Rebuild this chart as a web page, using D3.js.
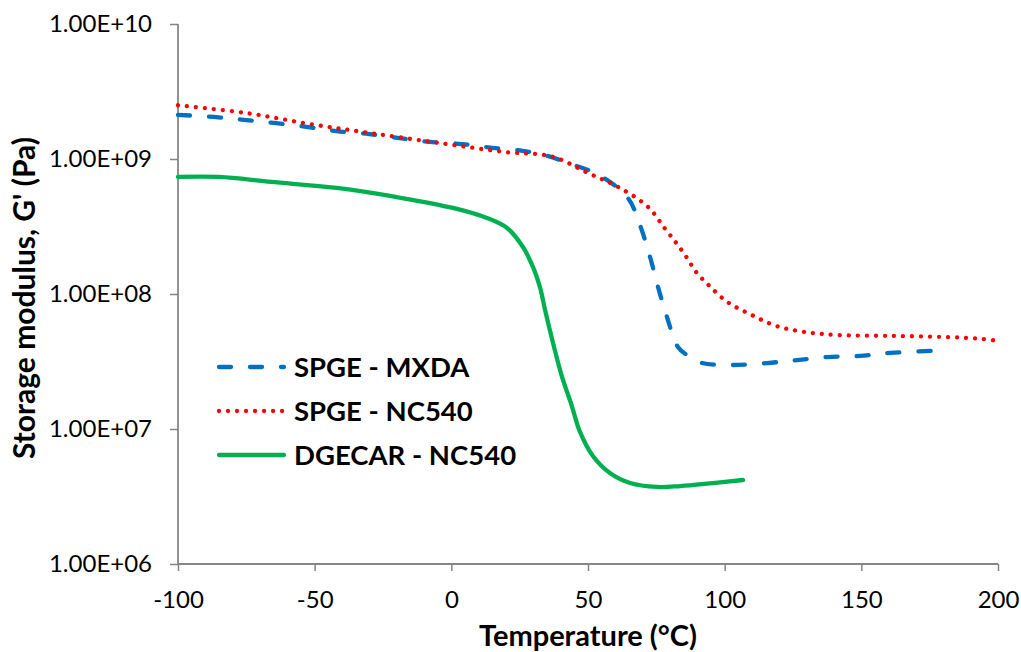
<!DOCTYPE html>
<html><head><meta charset="utf-8">
<script src="https://cdn.jsdelivr.net/npm/d3@7"></script>
<style>
body{margin:0;background:#fff;}
svg{display:block;font-family:Lato, "Open Sans", sans-serif;}
</style></head>
<body><svg id="c" width="1021" height="652"></svg>
<script>
// ---- data ----
const seriesNames = ["SPGE - MXDA", "SPGE - NC540", "DGECAR - NC540"];
const mxdaT = [-100,-87,-76,-65,-53,-42,-30,-19,-8,4,15,26,34,43,54,64.6,69,72.7,75.6,78.9,82.9,87.3,91.8,102.8,115.5,126.5,137.4,149.5,160.5,175.5];
const mxdaG = [2.12e9,2.05e9,1.95e9,1.85e9,1.73e9,1.61e9,1.53e9,1.43e9,1.34e9,1.29e9,1.21e9,1.15e9,1.07e9,9.3e8,7.6e8,5.14e8,3.24e8,1.88e8,1.13e8,6.76e7,4.05e7,3.41e7,3.08e7,2.98e7,3.08e7,3.24e7,3.41e7,3.48e7,3.66e7,3.79e7];
const nc540T = [-100,-75,-52,-30,-5,19,37,50,61,72,78,82,86,89.5,94,101,110,119,129,141.5,161.6,181,194,200];
const nc540G = [2.5e9,2.19e9,1.82e9,1.56e9,1.32e9,1.13e9,1.04e9,7.87e8,6.21e8,4.41e8,3.08e8,2.43e8,1.88e8,1.46e8,1.17e8,8.73e7,6.98e7,5.79e7,5.24e7,4.97e7,4.89e7,4.8e7,4.65e7,4.49e7];
const dgecarT = [-100,-85,-66,-42,-18,0.6,13,20.4,26.2,29.9,32.4,34.3,37.2,40.5,44,47,51.8,58,65.4,75.2,83.7,95.7,106.7];
const dgecarG = [7.36e8,7.36e8,6.76e8,6.1e8,5.14e8,4.34e8,3.66e8,3.08e8,2.23e8,1.58e8,1.13e8,7.6e7,4.34e7,2.43e7,1.5e7,9.6e6,6.3e6,4.72e6,3.98e6,3.72e6,3.78e6,3.98e6,4.19e6];
const xTicks = [-100,-50,0,50,100,150,200];
const xTickLabels = ["-100","-50","0","50","100","150","200"];
const yTicks = [1e6,1e7,1e8,1e9,1e10];
const yTickLabels = ["1.00E+06","1.00E+07","1.00E+08","1.00E+09","1.00E+10"];
const xTitle = "Temperature (°C)";
const yTitle = "Storage modulus, G' (Pa)";

// ---- layout ----
const L=178,R=998,T=24,B=564;
const svg=d3.select("#c");
const x=d3.scaleLinear().domain([-100,200]).range([L,R]);
const y=d3.scaleLog().domain([1e6,1e10]).range([B,T]);
const axisColor="#868686";

// axes
const xa=svg.append("g").attr("transform",`translate(0,${B})`)
  .call(d3.axisBottom(x).tickValues(xTicks).tickSize(7).tickPadding(20).tickFormat((d,i)=>xTickLabels[i]));
const ya=svg.append("g").attr("transform",`translate(${L},0)`)
  .call(d3.axisLeft(y).tickValues(yTicks).tickSize(8).tickPadding(18).tickFormat((d,i)=>yTickLabels[i]));
[xa,ya].forEach(g=>{
  g.select(".domain").attr("stroke",axisColor).attr("stroke-width",1.8);
  g.selectAll(".tick line").attr("stroke",axisColor).attr("stroke-width",1.5);
  g.selectAll("text").attr("fill","#000").attr("font-size",24).attr("font-family","Lato, sans-serif");
});
xa.select(".domain").attr("d",`M${L},0H${R}`);
ya.select(".domain").attr("d",`M0,${B}V${T}`);

// lines
const series=[
  {name:seriesNames[0],t:mxdaT,g:mxdaG,color:"#0070C0",dash:"12,19"},
  {name:seriesNames[1],t:nc540T,g:nc540G,color:"#FF0000",dash:"0.01,9"},
  {name:seriesNames[2],t:dgecarT,g:dgecarG,color:"#00B050",dash:null}
];
const line=d3.line().x(d=>x(d[0])).y(d=>y(d[1])).curve(d3.curveCatmullRom.alpha(0.5));
series.forEach(s=>{
  const pts=s.t.map((t,i)=>[t,s.g[i]]);
  svg.append("path").attr("d",line(pts)).attr("fill","none")
    .attr("stroke",s.color).attr("stroke-width",4.3).attr("stroke-linecap","round")
    .attr("stroke-dasharray",s.dash);
});

// legend
const lg=svg.append("g");
series.forEach((s,i)=>{
  const yy=367+i*44;
  lg.append("line").attr("x1",219).attr("x2",284).attr("y1",yy).attr("y2",yy)
    .attr("stroke",s.color).attr("stroke-width",4.3).attr("stroke-linecap","round")
    .attr("stroke-dasharray",s.dash);
  lg.append("text").attr("x",294).attr("y",yy).attr("dy","0.36em")
    .attr("font-size",27.5).attr("font-weight","bold").text(s.name);
});

// titles
svg.append("text").attr("x",588).attr("y",646).attr("text-anchor","middle")
  .attr("font-size",29).attr("font-weight","bold").text(xTitle);
svg.append("text").attr("transform","translate(35,298) rotate(-90)").attr("text-anchor","middle")
  .attr("font-size",30).attr("font-weight","bold").text(yTitle);
</script></body></html>
